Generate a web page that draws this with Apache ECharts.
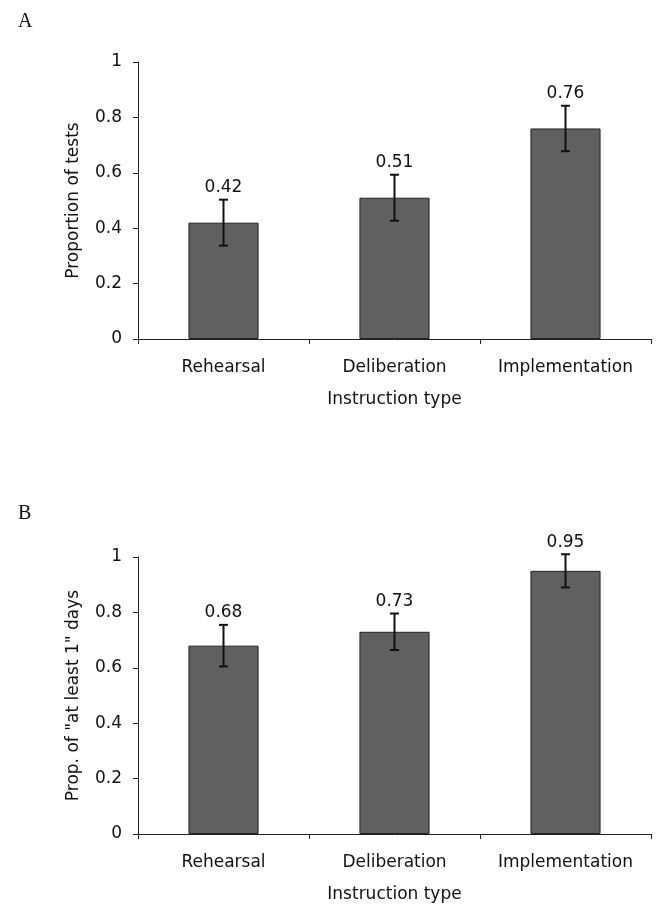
<!DOCTYPE html>
<html>
<head>
<meta charset="utf-8">
<script src="https://cdn.jsdelivr.net/npm/echarts@6/dist/echarts.min.js"></script>
<style>
  html, body { margin: 0; padding: 0; background: #ffffff; }
  #chart { width: 658px; height: 907px; }
</style>
</head>
<body>
<div id="chart"></div>
<script>
const categories = ['Rehearsal', 'Deliberation', 'Implementation'];
const valuesA = [0.42, 0.51, 0.76];
const errorsA = [0.083, 0.083, 0.082];
const valuesB = [0.68, 0.73, 0.95];
const errorsB = [0.075, 0.066, 0.06];
const yTickLabels = ['0', '0.2', '0.4', '0.6', '0.8', '1'];
const yNameA = 'Proportion of tests';
const yNameB = 'Prop. of "at least 1" days';
const xName = 'Instruction type';

const FONT = 'DejaVu Sans';
const chart = echarts.init(document.getElementById('chart'), null, { renderer: 'canvas' });

function errData(vals, errs) {
  return vals.map((v, i) => [i, v, errs[i]]);
}

function renderErr(params, api) {
  const i = api.value(0);
  const v = api.value(1);
  const e = api.value(2);
  const top = api.coord([i, v + e]);
  const bot = api.coord([i, v - e]);
  const hw = 4.5;
  const style = { stroke: '#111', lineWidth: 2 };
  return {
    type: 'group',
    children: [
      { type: 'line', shape: { x1: top[0], y1: top[1], x2: bot[0], y2: bot[1] }, style: style },
      { type: 'line', shape: { x1: top[0] - hw, y1: top[1], x2: top[0] + hw, y2: top[1] }, style: style },
      { type: 'line', shape: { x1: bot[0] - hw, y1: bot[1], x2: bot[0] + hw, y2: bot[1] }, style: style },
      { type: 'text', x: top[0], y: top[1] - 12,
        style: { text: v.toFixed(2), fill: '#111', font: '17px "' + FONT + '"', align: 'center', verticalAlign: 'middle' } }
    ]
  };
}

function xAxisCfg(gi) {
  return {
    gridIndex: gi, type: 'category', data: categories,
    name: xName, nameLocation: 'middle', nameGap: 52,
    nameTextStyle: { fontFamily: FONT, fontSize: 17, color: '#111' },
    axisLine: { lineStyle: { color: '#222', width: 1 } },
    axisTick: { show: true, length: 5, lineStyle: { color: '#222' } },
    axisLabel: { fontFamily: FONT, fontSize: 17, color: '#111', margin: 20, interval: 0, hideOverlap: false },
    splitLine: { show: false }
  };
}

function yAxisCfg(gi, name) {
  return {
    gridIndex: gi, type: 'value', min: 0, max: 1, interval: 0.2,
    name: name, nameLocation: 'middle', nameGap: 56, nameRotate: 90,
    nameTextStyle: { fontFamily: FONT, fontSize: 17, color: '#111' },
    axisLine: { show: true, lineStyle: { color: '#222', width: 1 } },
    axisTick: { show: true, length: 5, lineStyle: { color: '#222' } },
    axisLabel: { fontFamily: FONT, fontSize: 17, color: '#111', margin: 16,
      formatter: (val) => yTickLabels[Math.round(val / 0.2)] },
    splitLine: { show: false }
  };
}

const barStyle = { color: '#606060', borderColor: '#222', borderWidth: 1 };

chart.setOption({
  animation: false,
  backgroundColor: '#ffffff',
  title: [
    { text: 'A', left: 13, top: 7, textStyle: { fontFamily: 'Liberation Serif', fontSize: 20, fontWeight: 'normal', color: '#111' } },
    { text: 'B', left: 13, top: 499, textStyle: { fontFamily: 'Liberation Serif', fontSize: 20, fontWeight: 'normal', color: '#111' } }
  ],
  grid: [
    { left: 138, top: 62, width: 513, height: 277 },
    { left: 138, top: 557, width: 513, height: 277 }
  ],
  xAxis: [xAxisCfg(0), xAxisCfg(1)],
  yAxis: [yAxisCfg(0, yNameA), yAxisCfg(1, yNameB)],
  series: [
    { type: 'bar', xAxisIndex: 0, yAxisIndex: 0, data: valuesA, barWidth: '41%', itemStyle: barStyle },
    { type: 'custom', xAxisIndex: 0, yAxisIndex: 0, data: errData(valuesA, errorsA), renderItem: renderErr, z: 5 },
    { type: 'bar', xAxisIndex: 1, yAxisIndex: 1, data: valuesB, barWidth: '41%', itemStyle: barStyle },
    { type: 'custom', xAxisIndex: 1, yAxisIndex: 1, data: errData(valuesB, errorsB), renderItem: renderErr, z: 5 }
  ]
});
</script>
</body>
</html>
